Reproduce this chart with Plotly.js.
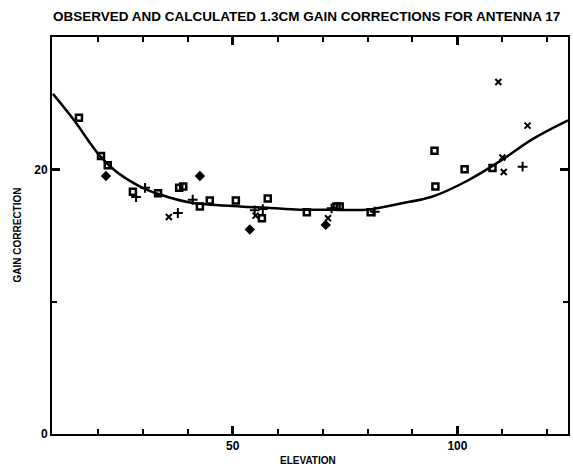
<!DOCTYPE html>
<html>
<head>
<meta charset="utf-8">
<script src="https://cdn.plot.ly/plotly-3.0.1.min.js"></script>
<style>html,body{margin:0;padding:0;background:#fff}#chart{width:573px;height:466px}</style>
</head>
<body>
<div id="chart"></div>
<script>
// Fitted curve (calculated)
const curveX = [10.0, 14.5, 20.5, 24.2, 29.4, 33.8, 40.5, 51.6, 57.6, 64.9, 72.2, 79.8, 87.1, 94.5, 102.0, 109.4, 116.8, 124.6];
const curveY = [25.7, 23.8, 21.0, 19.8, 18.7, 18.1, 17.5, 17.2, 17.1, 16.95, 16.95, 16.95, 17.4, 17.95, 19.1, 20.6, 22.3, 23.7];

// Observed points by symbol
const squareX = [15.8, 20.7, 22.2, 27.8, 33.4, 38.1, 39.0, 42.7, 44.9, 50.7, 57.8, 56.5, 66.5, 73.1, 73.8, 80.7, 94.9, 95.1, 101.6, 107.8];
const squareY = [23.9, 21.0, 20.3, 18.3, 18.2, 18.6, 18.7, 17.2, 17.65, 17.65, 17.8, 16.3, 16.75, 17.2, 17.2, 16.75, 21.4, 18.7, 20.0, 20.1];
const diamondX = [21.8, 42.7, 53.8, 70.7];
const diamondY = [19.5, 19.5, 15.45, 15.8];
const crossX = [35.8, 55.1, 71.2, 109.1, 115.6, 110.0, 110.3];
const crossY = [16.4, 16.5, 16.3, 26.6, 23.3, 20.9, 19.8];
const plusX = [28.5, 30.5, 37.8, 41.1, 54.9, 56.7, 72.0, 81.6, 114.5];
const plusY = [17.9, 18.6, 16.7, 17.7, 16.9, 17.0, 17.05, 16.8, 20.2];

const xTickVals = [50, 100];
const xTickText = ['50', '100'];
const yTickVals = [0, 20];
const yTickText = ['0', '20'];
const xRange = [9.8, 124.6];
const yRange = [0, 30];

const titleText = 'OBSERVED AND CALCULATED 1.3CM GAIN CORRECTIONS FOR ANTENNA 17';
const xTitle = 'ELEVATION';
const yTitle = 'GAIN CORRECTION';

const sans = 'Liberation Sans, Arial, sans-serif';
const narrow = 'Liberation Sans Narrow, Arial Narrow, sans-serif';

const traces = [
  {x: curveX, y: curveY, mode: 'lines', line: {color: '#000', width: 2.5, shape: 'spline', smoothing: 1}, hoverinfo: 'skip'},
  {x: squareX, y: squareY, mode: 'markers', marker: {symbol: 'square-open', size: 6, color: '#000', line: {width: 2.5, color: '#000'}}},
  {x: diamondX, y: diamondY, mode: 'markers', marker: {symbol: 'diamond', size: 8, color: '#000'}},
  {x: crossX, y: crossY, mode: 'markers', marker: {symbol: 'x-thin', size: 6, color: '#000', line: {width: 2, color: '#000'}}},
  {x: plusX, y: plusY, mode: 'markers', marker: {symbol: 'cross-thin', size: 7, color: '#000', line: {width: 2, color: '#000'}}},
  // invisible trace to anchor the minor-tick axes
  {x: curveX, y: curveY, xaxis: 'x2', yaxis: 'y2', mode: 'lines', opacity: 0, line: {width: 0}, hoverinfo: 'skip'}
];

const axisCommon = {
  showline: true, linecolor: '#000', linewidth: 2, mirror: 'ticks',
  ticks: 'inside', tickcolor: '#000', tickwidth: 2.5, ticklen: 8,
  showgrid: false, zeroline: false,
  tickfont: {family: sans, size: 12, color: '#000', weight: 'bold'}
};
const minorCommon = {
  showline: true, linecolor: '#000', linewidth: 2, mirror: 'ticks',
  ticks: 'inside', tickcolor: '#000', tickwidth: 2, ticklen: 5,
  showgrid: false, zeroline: false, showticklabels: false,
  tickmode: 'linear', tick0: 0, dtick: 10
};

const layout = {
  width: 573, height: 466,
  margin: {l: 52, r: 5, t: 37, b: 32},
  paper_bgcolor: '#fff', plot_bgcolor: '#fff',
  showlegend: false,
  title: {text: titleText, x: 53/573, xanchor: 'left', xref: 'container', y: 1 - 16/466, yanchor: 'middle', yref: 'container',
          font: {family: narrow, size: 13.5, color: '#000', weight: 'bold'}},
  xaxis: Object.assign({}, axisCommon, {range: xRange, tickmode: 'array', tickvals: xTickVals, ticktext: xTickText}),
  yaxis: Object.assign({}, axisCommon, {range: yRange, tickmode: 'array', tickvals: yTickVals, ticktext: yTickText}),
  xaxis2: Object.assign({}, minorCommon, {range: xRange, overlaying: 'x', anchor: 'y2', side: 'bottom'}),
  yaxis2: Object.assign({}, minorCommon, {range: yRange, overlaying: 'y', anchor: 'x2', side: 'left'}),
  annotations: [
    {text: xTitle, xref: 'paper', yref: 'paper', x: (308-52)/516, y: -(460-434)/397, xanchor: 'center', yanchor: 'middle', showarrow: false,
     font: {family: sans, size: 10, color: '#000', weight: 'bold'}},
    {text: yTitle, xref: 'paper', yref: 'paper', x: (17-52)/516, y: 0.5, xanchor: 'center', yanchor: 'middle', textangle: -90, showarrow: false,
     font: {family: sans, size: 10, color: '#000', weight: 'bold'}}
  ]
};

Plotly.newPlot('chart', traces, layout, {displayModeBar: false, staticPlot: true});
</script>
</body>
</html>
